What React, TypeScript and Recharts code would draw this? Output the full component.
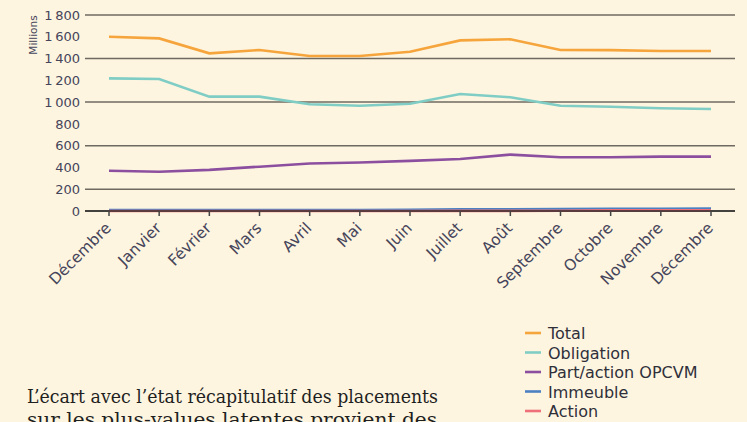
import React from 'react';
import { LineChart, Line, XAxis, YAxis, CartesianGrid } from 'recharts';

const months = ['Décembre', 'Janvier', 'Février', 'Mars', 'Avril', 'Mai', 'Juin', 'Juillet', 'Août', 'Septembre', 'Octobre', 'Novembre', 'Décembre'];
const total = [1600, 1585, 1448, 1478, 1423, 1423, 1463, 1567, 1577, 1478, 1477, 1469, 1469];
const obligation = [1218, 1212, 1050, 1050, 980, 966, 985, 1074, 1044, 967, 958, 943, 937];
const partAction = [370, 361, 378, 407, 436, 446, 460, 478, 518, 493, 493, 499, 499];
const immeuble = [8, 8, 8, 8, 8, 9, 10, 15, 16, 17, 21, 21, 22];
const action = [0, 0, 0, 0, 0, 0, 0, 1, 1, 2, 6, 7, 7];
const yTicks = [0, 200, 400, 600, 800, 1000, 1200, 1400, 1600, 1800];

const series = [
  { key: 'total', name: 'Total', color: '#f6a53d', values: total },
  { key: 'obligation', name: 'Obligation', color: '#80cdc5', values: obligation },
  { key: 'part', name: 'Part/action OPCVM', color: '#8c4f9f', values: partAction },
  { key: 'immeuble', name: 'Immeuble', color: '#4b80c2', values: immeuble },
  { key: 'action', name: 'Action', color: '#ef7079', values: action },
];

const data = months.map((m, i) => {
  const row: any = { month: m };
  series.forEach((s) => { row[s.key] = s.values[i]; });
  return row;
});

const BG = '#fdf5e0';
const TEXT = '#45445a';
const FONT = '"DejaVu Sans", sans-serif';
const SERIF = '"DejaVu Serif Condensed", "DejaVu Serif", serif';

const fmt = (v: number) => (v >= 1000 ? `${Math.floor(v / 1000)}\u2009${String(v % 1000).padStart(3, '0')}` : String(v));

const XTick = (props: any) => {
  const { x, y, payload } = props;
  const ax = x + 3;
  const ay = y + 11;
  return (
    <text x={ax} y={ay} transform={`rotate(-45 ${ax} ${ay})`} textAnchor="end" fontSize={15.5} fill={TEXT} fontFamily={FONT}>
      {payload.value}
    </text>
  );
};

export default function App() {
  return (
    <div style={{ position: 'absolute', left: 0, top: 0, width: 747, height: 422, background: BG, overflow: 'hidden' }}>
      <LineChart width={747} height={422} data={data} margin={{ top: 15, right: 12, left: 0, bottom: 111 }}>
        <CartesianGrid vertical={false} stroke="#6e6a61" strokeWidth={1.5} />
        <XAxis
          dataKey="month"
          interval={0}
          height={100}
          padding={{ left: 24, right: 24 }}
          axisLine={{ stroke: '#2a2a2a', strokeWidth: 1.5 }}
          tickLine={{ stroke: '#444', strokeWidth: 1.5 }}
          tickSize={5}
          tick={<XTick />}
        />
        <YAxis
          width={85}
          domain={[0, 1800]}
          ticks={yTicks}
          tickFormatter={fmt}
          axisLine={false}
          tickLine={false}
          tickSize={0}
          tickMargin={5}
          tick={{ fontSize: 13, fill: TEXT, fontFamily: FONT }}
        />
        {series.map((s) => (
          <Line key={s.key} dataKey={s.key} name={s.name} stroke={s.color} strokeWidth={2.6} dot={false} type="linear" isAnimationActive={false} />
        ))}
      </LineChart>
      <svg width={747} height={422} style={{ position: 'absolute', left: 0, top: 0, pointerEvents: 'none' }}>
        <text x={37} y={35} transform="rotate(-90 37 35)" textAnchor="middle" fontSize={10.5} fill={TEXT} fontFamily={FONT}>Millions</text>
        <text x={27} y={403} fontSize={19} fill="#1f1f1f" fontFamily={SERIF} textLength={411} lengthAdjust="spacingAndGlyphs">L’écart avec l’état récapitulatif des placements</text>
        <text x={27} y={426} fontSize={19} fill="#1f1f1f" fontFamily={SERIF} textLength={410} lengthAdjust="spacingAndGlyphs">sur les plus-values latentes provient des</text>
        {series.map((s, i) => (
          <g key={s.key}>
            <line x1={525} x2={541} y1={333 + i * 19.5} y2={333 + i * 19.5} stroke={s.color} strokeWidth={2.6} />
            <text x={548} y={339 + i * 19.5} fontSize={16} fill="#2f2f3a" fontFamily={FONT}>{s.name}</text>
          </g>
        ))}
      </svg>
    </div>
  );
}
